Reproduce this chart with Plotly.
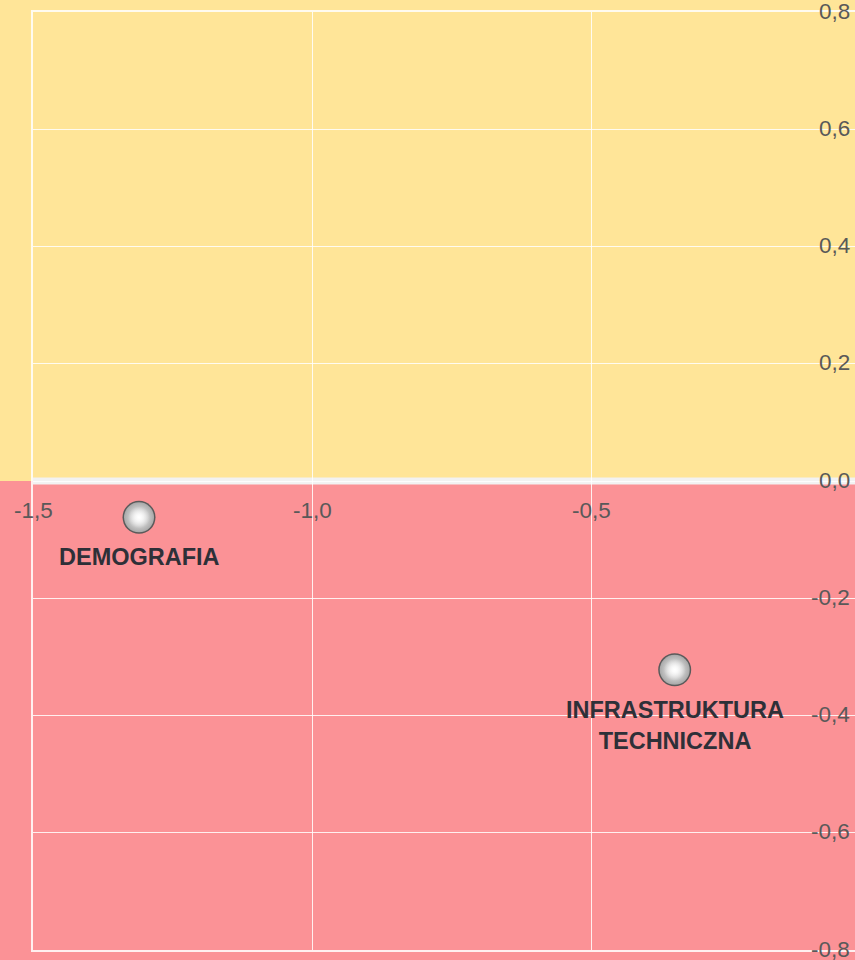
import plotly.graph_objects as go

categories = ["DEMOGRAFIA", "INFRASTRUKTURA<br>TECHNICZNA"]
x_values = [-1.31, -0.35]
y_values = [-0.062, -0.322]

x_tick_vals = [-1.5, -1.0, -0.5]
x_tick_text = ["-1,5", "-1,0", "-0,5"]
y_tick_vals = [0.8, 0.6, 0.4, 0.2, 0.0, -0.2, -0.4, -0.6, -0.8]
y_tick_text = ["0,8", "0,6", "0,4", "0,2", "0,0", "-0,2", "-0,4", "-0,6", "-0,8"]

YELLOW = "#FFE598"
PINK = "#FB9296"
W, H = 855, 960
ML, MR, MT, MB = 33, 0, 12, 10
px_per_unit = 558.0
x_max = -1.5 + (W - ML - MR) / px_per_unit
TICKFONT = dict(family="Liberation Sans, Arial", size=22.5, color="#595959")

fig = go.Figure()
# sphere: dark rim
fig.add_trace(go.Scatter(
    x=x_values, y=y_values, mode="markers",
    marker=dict(size=33, color="#5a5a5a", line=dict(width=0)),
    hoverinfo="skip", showlegend=False))
# sphere: shaded body
fig.add_trace(go.Scatter(
    x=x_values, y=y_values, mode="markers",
    marker=dict(size=30, color="#a8a8a8",
                gradient=dict(type="radial", color="#ffffff"),
                line=dict(width=0)),
    hoverinfo="skip", showlegend=False))
# sphere: soft bright core
fig.add_trace(go.Scatter(
    x=x_values, y=y_values, mode="markers",
    marker=dict(size=22, color="rgba(255,255,255,0)",
                gradient=dict(type="radial", color="rgba(255,255,255,0.9)"),
                line=dict(width=0)),
    hoverinfo="skip", showlegend=False))

shapes = [
    dict(type="rect", xref="paper", yref="paper", x0=-0.1, x1=1.1, y0=0.5, y1=1.1,
         fillcolor=YELLOW, line=dict(width=0), layer="below"),
    dict(type="rect", xref="paper", yref="paper", x0=-0.1, x1=1.1, y0=-0.1, y1=0.5,
         fillcolor=PINK, line=dict(width=0), layer="below"),
    dict(type="line", xref="paper", yref="y", x0=0, x1=1.1, y0=0, y1=0,
         line=dict(color="#F2F2F2", width=7), layer="below"),
]

annotations = []
for v, t in zip(x_tick_vals, x_tick_text):
    annotations.append(dict(x=v, y=0, xref="x", yref="y", text=t, showarrow=False,
                            xanchor="center", yanchor="middle", yshift=-29,
                            font=TICKFONT))
for v, t in zip(y_tick_vals, y_tick_text):
    annotations.append(dict(x=1, y=v, xref="paper", yref="y", text=t, showarrow=False,
                            xanchor="right", yanchor="middle", xshift=-3, yshift=1,
                            font=TICKFONT))
for xv, yv, c in zip(x_values, y_values, categories):
    annotations.append(dict(x=xv, y=yv, xref="x", yref="y", text="<b>" + c + "</b>",
                            showarrow=False, xanchor="center", yanchor="top", yshift=-25,
                            font=dict(family="Liberation Sans, Arial", size=23.5, color="#2E3038")))

GRID = "rgba(255,255,255,0.85)"
fig.update_layout(
    width=W, height=H,
    margin=dict(l=ML, r=MR, t=MT, b=MB, pad=0),
    paper_bgcolor=PINK, plot_bgcolor="rgba(0,0,0,0)",
    shapes=shapes, annotations=annotations,
    xaxis=dict(range=[-1.5, x_max], tickvals=x_tick_vals, showticklabels=False,
               showgrid=True, gridcolor=GRID, gridwidth=1,
               showline=True, mirror=True, linecolor=GRID, linewidth=2,
               zeroline=False, fixedrange=True),
    yaxis=dict(range=[-0.8, 0.8], tickvals=y_tick_vals, showticklabels=False,
               showgrid=True, gridcolor=GRID, gridwidth=1,
               showline=True, mirror=False, linecolor=GRID, linewidth=2,
               zeroline=False, fixedrange=True),
    showlegend=False,
)

fig.write_html("out.html", config={"displayModeBar": False},
               post_script="document.body.style.margin='0';document.body.style.overflow='hidden';")
